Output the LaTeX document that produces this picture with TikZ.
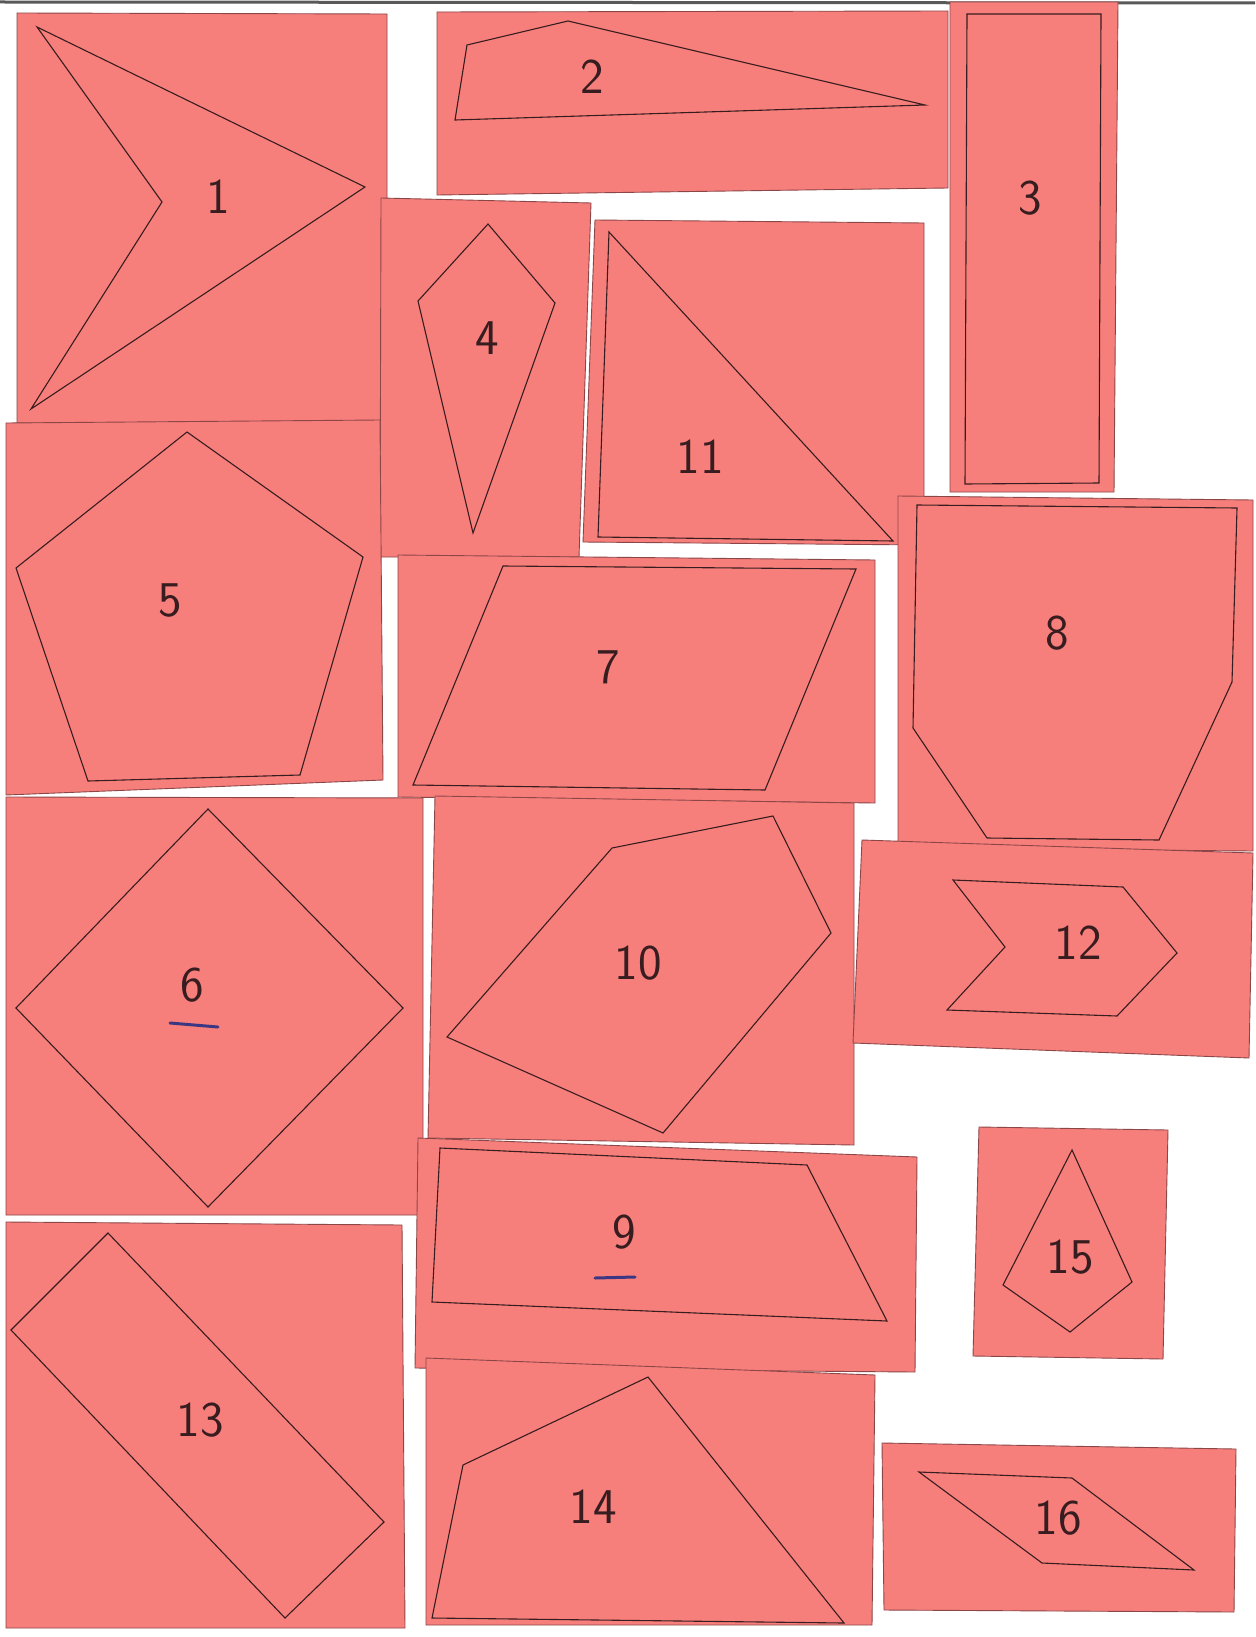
\documentclass[tikz,border=0pt]{standalone}
\usepackage{fontspec}
\definecolor{paper}{RGB}{247,127,123}
\definecolor{paperedge}{RGB}{140,70,72}
\definecolor{ink}{RGB}{55,28,32}
\definecolor{blueink}{RGB}{60,55,130}
\tikzset{
  piece/.style={fill=paper, draw=paperedge, line width=0.9pt},
  outl/.style={draw=ink, line width=1.1pt, line join=miter},
  lbl/.style={text=ink, font=\sffamily\fontsize{50}{55}\selectfont, inner sep=0pt},
  uline/.style={draw=blueink, line width=3pt, line cap=round}
}
\begin{document}
\begin{tikzpicture}[x=1pt,y=-1pt]
\useasboundingbox (0,0) rectangle (1255,1637);
\fill[white] (0,0) rectangle (1255,1637);
% scanner edge
\draw[gray!70!black, line width=3pt] (0,2) -- (1255,3);

% ---------- paper pieces ----------
% 1
\path[piece] (17,13) -- (387,14) -- (387,423) -- (17,423) -- cycle;
% 2
\path[piece] (437,12) -- (948,11) -- (948,188) -- (437,195) -- cycle;
% 3
\path[piece] (950,2) -- (1118,2) -- (1114,492) -- (950,492) -- cycle;
% 4
\path[piece] (381,198) -- (591,203) -- (579,557) -- (380,557) -- cycle;
% 11
\path[piece] (595,220) -- (924,223) -- (924,545) -- (583,542) -- cycle;
% 5
\path[piece] (6,423) -- (380,420) -- (383,780) -- (6,795) -- cycle;
% 7
\path[piece] (398,555) -- (875,560) -- (875,803) -- (398,797) -- cycle;
% 8
\path[piece] (898,496) -- (1253,500) -- (1253,851) -- (898,848) -- cycle;
% 6
\path[piece] (6,797) -- (423,798) -- (423,1215) -- (6,1215) -- cycle;
% 10
\path[piece] (435,796) -- (854,803) -- (854,1145) -- (428,1138) -- cycle;
% 12
\path[piece] (862,840) -- (1253,853) -- (1249,1058) -- (853,1043) -- cycle;
% 9
\path[piece] (418,1138) -- (917,1157) -- (915,1372) -- (415,1368) -- cycle;
% 15
\path[piece] (979,1127) -- (1168,1130) -- (1163,1359) -- (973,1356) -- cycle;
% 13
\path[piece] (6,1222) -- (402,1225) -- (405,1628) -- (6,1628) -- cycle;
% 14
\path[piece] (426,1358) -- (875,1375) -- (872,1625) -- (426,1625) -- cycle;
% 16
\path[piece] (882,1443) -- (1236,1449) -- (1234,1612) -- (884,1610) -- cycle;

% ---------- drawn figures ----------
% 1
\draw[outl] (37,27) -- (365,187) -- (31,409) -- (162,202) -- cycle;
% 2
\draw[outl] (467,45) -- (568,21) -- (925,105) -- (455,120) -- cycle;
% 3
\draw[outl] (967,14) -- (1101,14) -- (1099,483) -- (965,484) -- cycle;
% 4
\draw[outl] (488,224) -- (555,303) -- (473,533) -- (418,301) -- cycle;
% 11
\draw[outl] (609,232) -- (893,541) -- (598,537) -- cycle;
% 5
\draw[outl] (187,432) -- (363,557) -- (300,775) -- (88,781) -- (16,568) -- cycle;
% 7
\draw[outl] (503,566) -- (856,569) -- (765,790) -- (413,785) -- cycle;
% 8
\draw[outl] (917,505) -- (1237,508) -- (1232,682) -- (1159,840) -- (987,838) -- (913,728) -- cycle;
% 6
\draw[outl] (208,809) -- (403,1008) -- (208,1207) -- (16,1008) -- cycle;
% 10
\draw[outl] (612,848) -- (773,816) -- (831,933) -- (663,1133) -- (447,1037) -- cycle;
% 12
\draw[outl] (953,880) -- (1123,887) -- (1177,953) -- (1117,1016) -- (947,1010) -- (1005,947) -- cycle;
% 9
\draw[outl] (440,1148) -- (807,1165) -- (887,1321) -- (432,1302) -- cycle;
% 15
\draw[outl] (1072,1150) -- (1132,1282) -- (1070,1332) -- (1003,1285) -- cycle;
% 13
\draw[outl] (108,1233) -- (384,1522) -- (285,1618) -- (11,1330) -- cycle;
% 14
\draw[outl] (463,1465) -- (648,1377) -- (844,1623) -- (432,1618) -- cycle;
% 16
\draw[outl] (919,1472) -- (1072,1478) -- (1194,1570) -- (1042,1563) -- cycle;

% ---------- labels ----------
\node[lbl] (l1)  at (218,197)  {1};
\node[lbl] (l2)  at (592,77)   {2};
\node[lbl] (l3)  at (1030,198) {3};
\node[lbl] (l4)  at (487,338)  {4};
\node[lbl] (l11) at (700,457)  {11};
\node[lbl] (l5)  at (170,600)  {5};
\node[lbl] (l7)  at (608,667)  {7};
\node[lbl] (l8)  at (1057,633) {8};
\node[lbl] (l6)  at (192,985)  {6};
\node[lbl] (l10) at (638,963)  {10};
\node[lbl] (l12) at (1078,943) {12};
\node[lbl] (l9)  at (624,1232) {9};
\node[lbl] (l15) at (1070,1257){15};
\node[lbl] (l13) at (200,1420) {13};
\node[lbl] (l14) at (593,1507) {14};
\node[lbl] (l16) at (1058,1518){16};

% blue underlines
\draw[uline] (170,1023) -- (218,1027);
\draw[uline] (595,1278) -- (635,1277);
\end{tikzpicture}
\end{document}
